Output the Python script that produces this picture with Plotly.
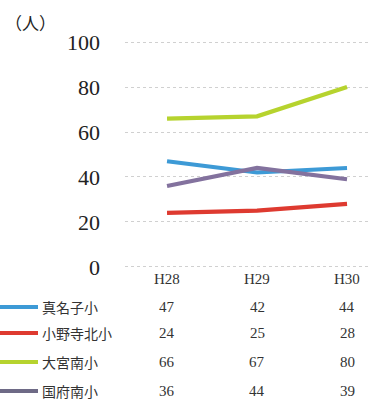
import plotly.graph_objects as go

years = ["H28", "H29", "H30"]
schools = ["真名子小", "小野寺北小", "大宮南小", "国府南小"]
manako = [47, 42, 44]
onodera = [24, 25, 28]
omiya = [66, 67, 80]
kokufu = [36, 44, 39]
series = [manako, onodera, omiya, kokufu]
colors = ["#3d9ad6", "#de3a30", "#b6d32e", "#83729e"]
legend_colors = ["#3d9ad6", "#de3a30", "#b6d32e", "#6e6a86"]
y_ticks = [0, 20, 40, 60, 80, 100]

W, H = 368, 401
L, R, T, B = 125, 0, 41, 133
PW, PH = W - L - R, H - T - B
Y0, Y1 = -0.5, 100.5

def py(pix):
    return (H - B - pix) / PH

def px(pix):
    return (pix - L) / PW

serif = "Liberation Serif"
cjk = "Noto Sans CJK JP"

fig = go.Figure()
for name, vals, c in zip(schools, series, colors):
    fig.add_trace(go.Scatter(x=list(range(len(years))), y=vals, mode="lines", name=name,
                             line=dict(color=c, width=4.2), showlegend=False))

ann = []
ann.append(dict(text="（人）", x=px(30), y=py(22), xref="paper", yref="paper", showarrow=False,
                font=dict(family=cjk, size=17, color="#222"), xanchor="center", yanchor="middle"))
for i, yl in enumerate(years):
    ann.append(dict(text=yl, x=i, y=py(279), xref="x", yref="paper", showarrow=False,
                    font=dict(family=serif, size=15, color="#333"), yanchor="middle"))
row_y = [307, 333, 362, 391]
shapes = []
for r, (name, vals, lc) in enumerate(zip(schools, series, legend_colors)):
    ry = py(row_y[r])
    shapes.append(dict(type="line", xref="paper", yref="paper", x0=px(-2), x1=px(38), y0=ry, y1=ry,
                       line=dict(color=lc, width=4.2)))
    ann.append(dict(text=name, x=px(40), y=ry, xref="paper", yref="paper", showarrow=False,
                    xanchor="left", yanchor="middle", font=dict(family=cjk, size=14, color="#333")))
    for i, v in enumerate(vals):
        ann.append(dict(text=str(v), x=i, y=ry, xref="x", yref="paper", showarrow=False,
                        yanchor="middle", font=dict(family=serif, size=15, color="#333")))

fig.update_layout(
    width=W, height=H, margin=dict(l=L, r=R, t=T, b=B),
    paper_bgcolor="white", plot_bgcolor="white",
    xaxis=dict(range=[-0.467, 2.233], showgrid=False, zeroline=False, showticklabels=False,
               showline=False, fixedrange=True),
    yaxis=dict(range=[Y0, Y1], tickvals=y_ticks, showgrid=True, gridcolor="#d0d0d0",
               griddash="dot", gridwidth=1, zeroline=False, showline=False,
               tickfont=dict(family=serif, size=22, color="#222"), ticklabelstandoff=24,
               fixedrange=True),
    annotations=ann, shapes=shapes,
)
fig.write_html("out.html")
